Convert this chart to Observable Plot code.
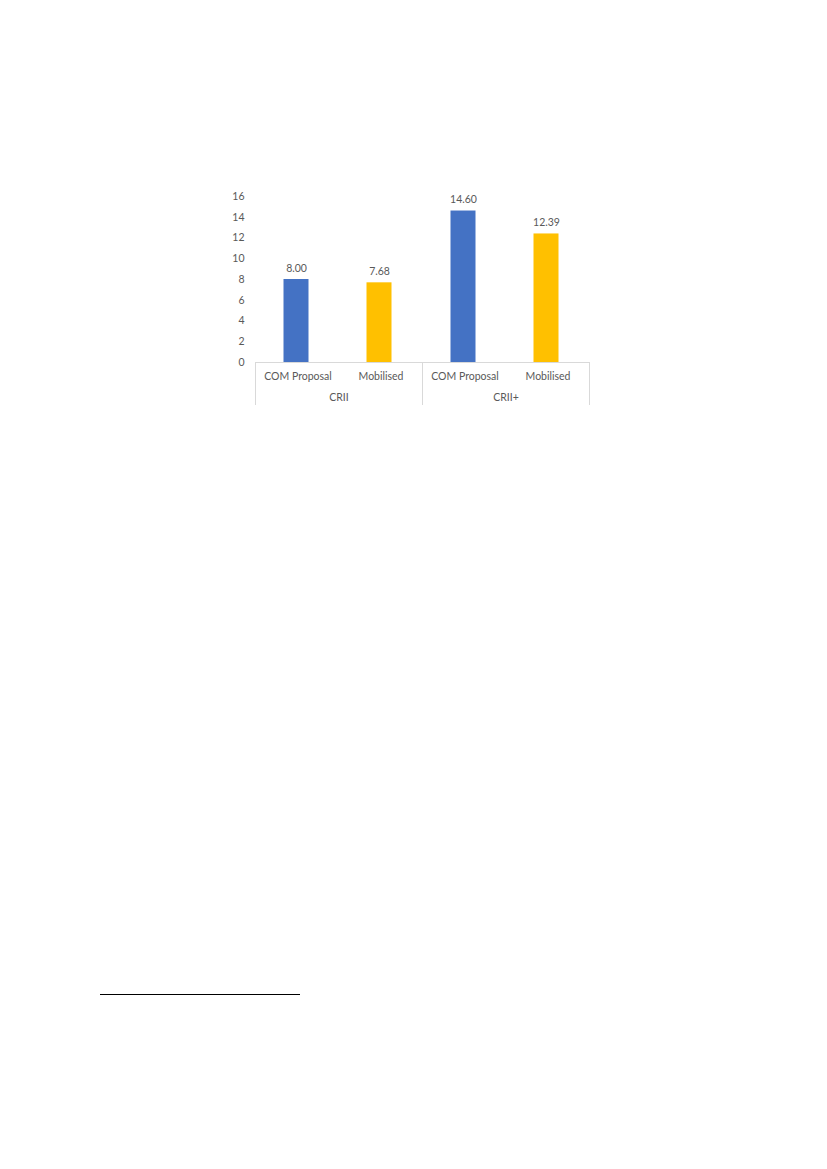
<!DOCTYPE html>
<html>
<head>
<meta charset="utf-8">
<script src="https://cdn.jsdelivr.net/npm/d3@7"></script>
<script src="https://cdn.jsdelivr.net/npm/@observablehq/plot@0.6"></script>
<style>
  html, body { margin: 0; padding: 0; background: #fff; width: 827px; height: 1169px; overflow: hidden; }
  #chart { position: absolute; left: 0; top: 0; }
  #footnote-rule { position: absolute; left: 100px; top: 994px; width: 200px; height: 0; border-top: 1px solid #000; }
</style>
</head>
<body>
<div id="chart"></div>
<div id="footnote-rule"></div>
<script>
const groups = ["CRII", "CRII", "CRII+", "CRII+"];
const series = ["COM Proposal", "Mobilised", "COM Proposal", "Mobilised"];
const values = [8.00, 7.68, 14.60, 12.39];
const yTicks = [0, 2, 4, 6, 8, 10, 12, 14, 16];
const seriesNames = ["COM Proposal", "Mobilised"];
const groupNames = ["CRII", "CRII+"];
const seriesColors = ["#4472C4", "#FFC000"];

const data = values.map((v, i) => ({group: groups[i], series: series[i], value: v}));

const textColor = "#595959";
const lineColor = "#D9D9D9";

const chart = Plot.plot({
  width: 827,
  height: 420,
  marginLeft: 254,
  marginRight: 238,
  marginTop: 196,
  marginBottom: 58,
  style: {fontFamily: "Lato, 'Liberation Sans', sans-serif", fontSize: "10.5px", color: textColor, background: "transparent"},
  fx: {domain: groupNames, padding: 0, axis: "bottom", label: null, tickSize: 0, tickPadding: 31},
  x: {domain: seriesNames, padding: 0, label: null, tickSize: 0, tickPadding: 10},
  y: {domain: [0, 16], ticks: yTicks, label: null, tickSize: 0, tickPadding: 11, tickFormat: d => String(d)},
  color: {domain: seriesNames, range: seriesColors},
  marks: [
    Plot.barY(data, {fx: "group", x: "series", y: "value", fill: "series", insetLeft: 29, insetRight: 29, dx: -1.5}),
    Plot.text(data, {fx: "group", x: "series", y: "value", text: d => d.value.toFixed(2), dy: -11, dx: -1.5, fill: textColor}),
    Plot.ruleY([0], {stroke: lineColor, strokeWidth: 1}),
    Plot.frame({anchor: "left", stroke: lineColor, insetTop: 166, insetBottom: -42}),
    Plot.frame({anchor: "right", stroke: lineColor, insetTop: 166, insetBottom: -42})
  ]
});
document.getElementById("chart").appendChild(chart);
</script>
</body>
</html>
